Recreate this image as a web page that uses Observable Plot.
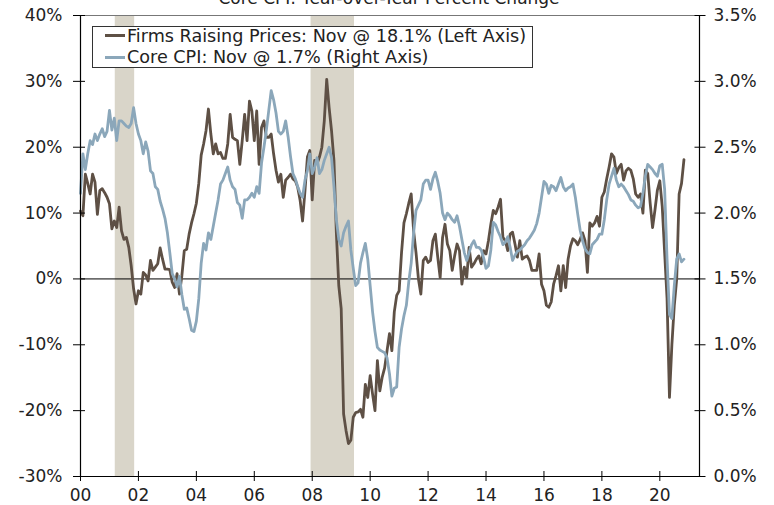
<!DOCTYPE html>
<html><head><meta charset="utf-8">
<script src="https://cdn.jsdelivr.net/npm/d3@7"></script>
<script src="https://cdn.jsdelivr.net/npm/@observablehq/plot@0.6"></script>
<style>
body{margin:0;background:#fff;font-family:"DejaVu Sans",Verdana,sans-serif;}
#wrap{position:relative;width:774px;height:505px;overflow:hidden;}
#title{position:absolute;left:0;width:778px;top:-12px;line-height:20px;text-align:center;font-size:17px;color:#222;}
#legend{position:absolute;left:92px;top:26px;width:439px;height:40px;border:1px solid #333;background:#fff;font-size:17.6px;color:#222;}
.row{position:absolute;left:12px;height:20px;line-height:20px;display:flex;align-items:center;white-space:nowrap;}
.sw{display:inline-block;width:20px;height:0;border-top:3px solid;margin-right:2px;}
</style></head>
<body>
<div id="wrap">
  <div id="chart"></div>
  <div id="title">Core CPI: Year-over-Year Percent Change</div>
  <div id="legend"></div>
</div>
<script>
// ---- data (monthly, Jan 2000 .. Nov 2020) ----
const startYear = 2000;
const seriesNames = ["Firms Raising Prices: Nov @ 18.1% (Left Axis)", "Core CPI: Nov @ 1.7% (Right Axis)"];
const seriesColors = ["#5e5045", "#8ba7ba"];
const firmsRaisingPrices = [
  10.3, 9.6, 15.9, 14.5, 12.9, 15.9, 14.7, 9.8, 13.4, 13.7, 13.1, 12.4,
  11.4, 7.6, 8.8, 7.8, 10.9, 7.3, 6.0, 6.3, 4.8, 2.0, -1.5, -3.8,
  -1.8, -2.3, 1.0, 0.6, -0.3, 2.8, 1.3, 1.8, 2.3, 4.7, 3.0, 1.5,
  1.5, 1.4, -0.5, -1.3, 0.8, -2.3, 0.5, 4.3, 4.5, 6.8, 8.5, 9.9,
  11.5, 14.5, 18.8, 20.5, 22.5, 25.8, 22, 19, 20.5, 19, 19.2, 18.3,
  18.3, 20.5, 25, 21.5, 21.2, 21, 17.4, 21, 25, 21, 27, 25.5,
  21, 25.5, 17.4, 23, 24, 21.5, 21.5, 22, 19, 16.5, 14.7, 15.9,
  12.4, 15, 15.4, 15.9, 15.2, 14.9, 13.9, 11.9, 8.8, 13.4, 18.5, 19.5,
  12, 18, 17.5, 18.5, 20, 24, 30.3, 26, 22.5, 18, 7, -1,
  -4.5, -20.5, -23, -25, -24.5, -21, -20.3, -20.2, -19.8, -21, -16, -18,
  -14.7, -17.5, -20, -12.4, -17, -14.9, -13.5, -10.9, -8.3, -10.9, -5, -2.5,
  -1.8, 4, 8.5, 9.9, 11.5, 12.9, 7.3, 4, 0, -2.3, 2.8, 3.3,
  2.5, 2.8, 5.8, 6.8, 3.3, 0.2, 6.3, 8.3, 5.3, 4.3, 1.3, 3.5,
  5.3, 4.3, -0.8, 1.8, 0.2, 4.8, 1.8, 2.3, 3.0, 3.5, 2.3, 4.3,
  3.8, 5.8, 8.3, 10.4, 9.9, 10.9, 12.1, 6.3, 5.8, 4.3, 6.8, 7.1,
  5.3, 3.3, 5.8, 3.0, 3.3, 3.5, 2.8, 1.3, 1.3, 1.3, 3.8, -0.8,
  -1.8, -4.0, -4.3, -3.5, -0.8, 0.5, 2.0, -1.8, 2.0, -1.3, 3.0, 5.0,
  6.1, 5.8, 5.2, 6.0, 7.0, 5.8, 1.0, 8.5, 8.0, 8.5, 9.5, 8.0,
  12.4, 13.2, 15.2, 17.0, 19.0, 18.5, 16.0, 16.9, 17.4, 15.0, 16.4, 16.8,
  16.5, 15.2, 12.9, 12.4, 12.9, 10.0, 16.5, 16.0, 11.5, 7.8, 10.5, 13.5,
  14.9, 11, 4, -3, -18, -10, -4, 0, 12.9, 14.5, 18.1
];
const coreCPI = [
  2.15, 2.45, 2.33, 2.45, 2.55, 2.52, 2.6, 2.55, 2.6, 2.64, 2.58, 2.62,
  2.78, 2.63, 2.72, 2.55, 2.7, 2.7, 2.68, 2.66, 2.65, 2.68, 2.8, 2.68,
  2.6, 2.55, 2.45, 2.54, 2.47, 2.32, 2.3, 2.2, 2.18, 2.09, 2.03, 1.96,
  1.85, 1.7, 1.54, 1.5, 1.44, 1.52, 1.38, 1.27, 1.28, 1.2, 1.11, 1.1,
  1.18, 1.35, 1.62, 1.77, 1.72, 1.85, 1.8, 1.9, 2.0, 2.1, 2.22, 2.25,
  2.3, 2.35, 2.25, 2.2, 2.18, 2.08, 2.06, 1.96, 2.1, 2.1, 2.12, 2.15,
  2.12, 2.2, 2.15, 2.38, 2.5, 2.63, 2.78, 2.93, 2.86, 2.76, 2.62, 2.6,
  2.62, 2.7, 2.58, 2.43, 2.3, 2.26, 2.2, 2.15, 2.12, 2.25, 2.32, 2.45,
  2.3, 2.35, 2.42, 2.3, 2.33, 2.4, 2.45, 2.5, 2.42, 2.2, 1.95, 1.8,
  1.75, 1.85, 1.9, 1.94, 1.72, 1.58, 1.45, 1.47, 1.62, 1.7, 1.77, 1.65,
  1.45, 1.25, 1.1, 0.98, 0.96, 0.95, 0.94, 0.9, 0.78, 0.61, 0.67, 0.68,
  0.98, 1.12, 1.22, 1.3, 1.48, 1.62, 1.85, 2.02, 2.06, 2.1, 2.22, 2.25,
  2.25, 2.18, 2.26, 2.31, 2.24, 2.15, 2.0, 1.95, 2.0, 1.98, 1.95, 1.93,
  1.98, 1.9, 1.8, 1.7, 1.64, 1.7, 1.76, 1.79, 1.74, 1.74, 1.72, 1.66,
  1.58, 1.6, 1.72, 1.93, 1.91, 1.86, 1.82, 1.76, 1.78, 1.82, 1.74, 1.64,
  1.68, 1.71, 1.72, 1.74, 1.76, 1.79, 1.81, 1.84, 1.87, 1.92, 2.0, 2.12,
  2.24, 2.22, 2.15, 2.21, 2.2, 2.17, 2.22, 2.27, 2.2, 2.17, 2.19, 2.2,
  2.22, 2.12, 1.99, 1.87, 1.79, 1.73, 1.7, 1.69, 1.76, 1.78, 1.8, 1.84,
  1.84, 1.95, 2.1, 2.22, 2.28, 2.34, 2.25, 2.2, 2.22, 2.2, 2.17, 2.14,
  2.1, 2.09, 2.06, 2.04, 2.05, 2.15, 2.28, 2.37, 2.35, 2.33, 2.3, 2.28,
  2.36, 2.37, 2.18, 1.65, 1.23, 1.2, 1.45, 1.65, 1.69, 1.63, 1.65
];
const recessionStart = [2001.2, 2007.96];
const recessionEnd = [2001.87, 2009.46];
const leftTicks = [-30, -20, -10, 0, 10, 20, 30, 40];
const rightTicks = [0, 0.5, 1.0, 1.5, 2.0, 2.5, 3.0, 3.5];
const xTicks = [2000, 2002, 2004, 2006, 2008, 2010, 2012, 2014, 2016, 2018, 2020];
const xDomain = [2000, 2021.37];

// right axis (0..3.5%) mapped onto left axis (-30..40%)
const rightToLeft = v => -30 + v * 20;
const leftToRight = v => (v + 30) / 20;

const firmsData = firmsRaisingPrices.map((v, i) => ({date: startYear + i / 12, value: v}));
const cpiData = coreCPI.map((v, i) => ({date: startYear + i / 12, value: rightToLeft(v)}));
const recessions = recessionStart.map((s, i) => ({start: s, end: recessionEnd[i]}));

const chart = Plot.plot({
  width: 774, height: 505,
  marginLeft: 80, marginRight: 75, marginTop: 15, marginBottom: 29,
  style: {fontFamily: "DejaVu Sans, Verdana, sans-serif", fontSize: "17px", color: "#222", background: "white", overflow: "visible"},
  x: {domain: xDomain},
  y: {domain: [leftTicks[0], leftTicks[leftTicks.length - 1]]},
  marks: [
    Plot.rect(recessions, {x1: "start", x2: "end", fill: "#d9d5c9"}),
    Plot.ruleY([0], {stroke: "#000", strokeWidth: 1}),
    Plot.ruleY([leftTicks[leftTicks.length - 1]], {stroke: "#777", strokeWidth: 1.2}),
    Plot.line(firmsData, {x: "date", y: "value", stroke: seriesColors[0], strokeWidth: 2.8}),
    Plot.line(cpiData, {x: "date", y: "value", stroke: seriesColors[1], strokeWidth: 2.8}),
    Plot.ruleX([xDomain[0]], {stroke: "#000", strokeWidth: 1.2}),
    Plot.ruleX([xDomain[1]], {stroke: "#000", strokeWidth: 1.2}),
    Plot.ruleY([leftTicks[0]], {stroke: "#000", strokeWidth: 1.2}),
    Plot.axisY({anchor: "left", ticks: leftTicks, tickSize: 12, dx: 5, tickPadding: 11,
      tickFormat: d => d + "%", label: null, stroke: "#000", fill: "#222"}),
    Plot.axisY({anchor: "right", ticks: rightTicks.map(rightToLeft), tickSize: 11, dx: -5.5, tickPadding: 8.5,
      tickFormat: d => leftToRight(d).toFixed(1) + "%", label: null, stroke: "#000", fill: "#222"}),
    Plot.axisX({anchor: "bottom", ticks: xTicks, tickSize: 10, dy: -5, tickPadding: 7,
      tickFormat: d => String(d % 100).padStart(2, "0"), label: null, stroke: "#000", fill: "#222"})
  ]
});
document.getElementById("chart").appendChild(chart);

// legend
const legend = document.getElementById("legend");
const rowTops = [-1.2, 20];
seriesNames.forEach((name, i) => {
  const row = document.createElement("div");
  row.className = "row";
  row.style.top = rowTops[i] + "px";
  const sw = document.createElement("span");
  sw.className = "sw";
  sw.style.borderTopColor = seriesColors[i];
  row.appendChild(sw);
  row.appendChild(document.createTextNode(name));
  legend.appendChild(row);
});
</script>
</body></html>
